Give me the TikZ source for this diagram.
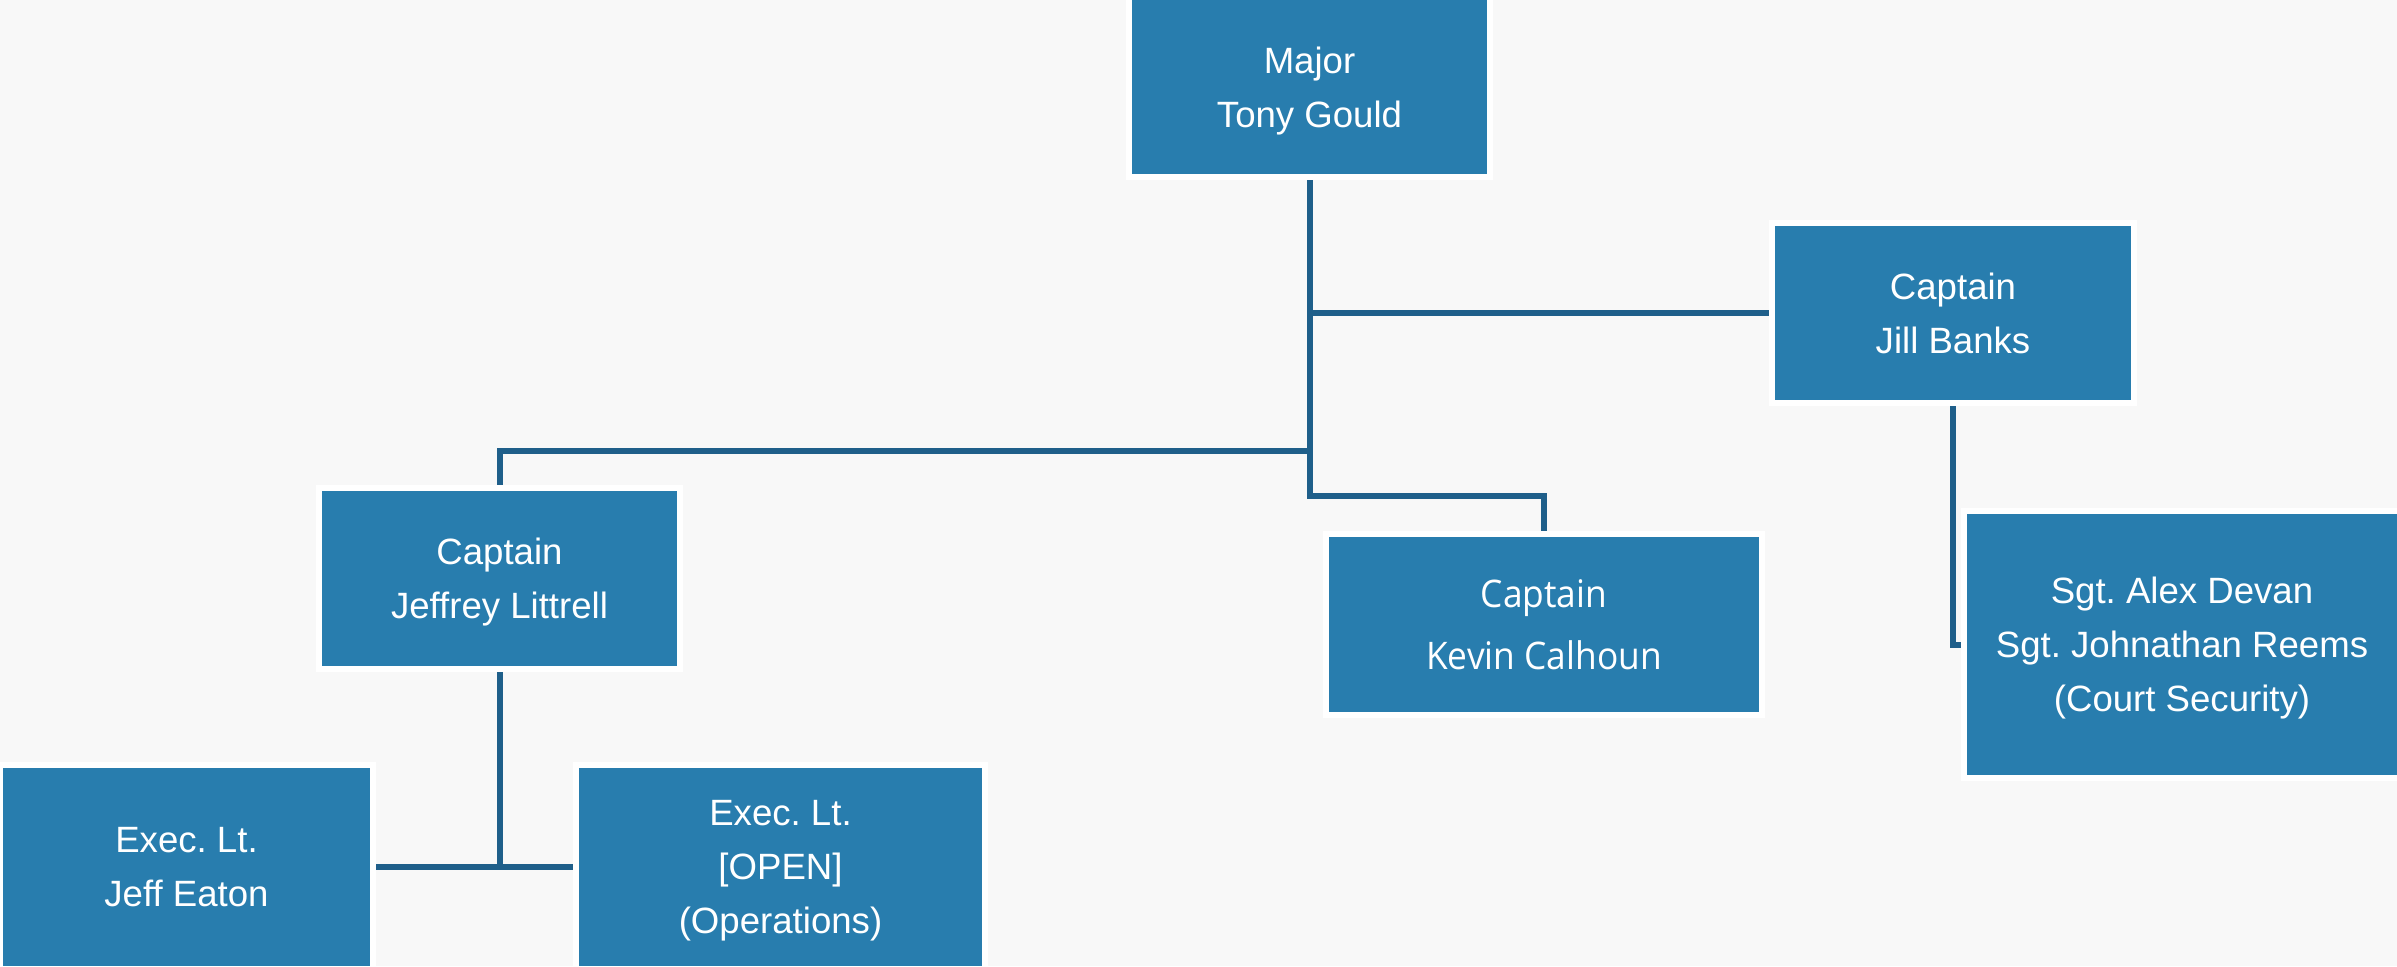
\documentclass[tikz,border=0pt]{standalone}
\usepackage{fontspec}
\setmainfont{Liberation Sans}
\newfontfamily\segoefont[FakeStretch=0.93]{Open Sans}
\usetikzlibrary{backgrounds}
\definecolor{bg}{HTML}{F8F8F8}
\definecolor{boxblue}{HTML}{287DAE}
\definecolor{linkblue}{HTML}{1F5F8A}
\newcommand\nodepthline[1]{\raisebox{0pt}[\height][0pt]{#1}}
\frenchspacing
\begin{document}
\begin{tikzpicture}[x=1pt,y=-1pt,
  orgbox/.style={fill=boxblue, draw=white, line width=6pt, inner sep=0pt, outer sep=0pt,
    text=white, align=center, font=\frenchspacing\fontsize{36.6}{54}\selectfont},
  link/.style={draw=linkblue, line width=6pt, line join=miter}]
\begin{scope}[on background layer]
\fill[bg] (0,0) rectangle (2397,966);
\end{scope}
\useasboundingbox (0,0) rectangle (2397,966);
\node[orgbox, minimum width=361pt, minimum height=180pt] (major) at (1309.5,87) {Major\\\nodepthline{Tony Gould}};
\node[orgbox, minimum width=362pt, minimum height=180pt] (jill) at (1953,313) {Captain\\Jill Banks};
\node[orgbox, minimum width=361pt, minimum height=181pt] (littrell) at (499.5,578) {Captain\\\nodepthline{Jeffrey Littrell}};
\node[orgbox, minimum width=436pt, minimum height=181pt, font=\segoefont\fontsize{38}{62}\selectfont] (kevin) at (1544,624.5) {Captain\\Kevin Calhoun};
\node[orgbox, minimum width=436pt, minimum height=267pt] (sgt) at (2182,644.5) {Sgt. Alex Devan\\Sgt. Johnathan Reems\\\nodepthline{(Court Security)}};
\node[orgbox, minimum width=373pt, minimum height=204pt] (eaton) at (186.5,867) {Exec. Lt.\\Jeff Eaton};
\node[orgbox, minimum width=409pt, minimum height=204pt] (open) at (780.5,867) {Exec. Lt.\\{[OPEN]}\\\nodepthline{(Operations)}};
\coordinate (trunkend) at (1309.5,496);
\coordinate (leftbranch) at (1309.5,451);
\begin{scope}[on background layer]
\draw[link] (major.south) -- (trunkend) -| (kevin.north);
\draw[link] (major.south |- jill.west) -- (jill.west);
\draw[link] (leftbranch) -| (littrell.north);
\draw[link] (jill.south) |- (sgt.west);
\draw[link] (littrell.south) -- (littrell.south |- eaton.east);
\draw[link] (eaton.east) -- (open.west);
\end{scope}
\end{tikzpicture}
\end{document}
